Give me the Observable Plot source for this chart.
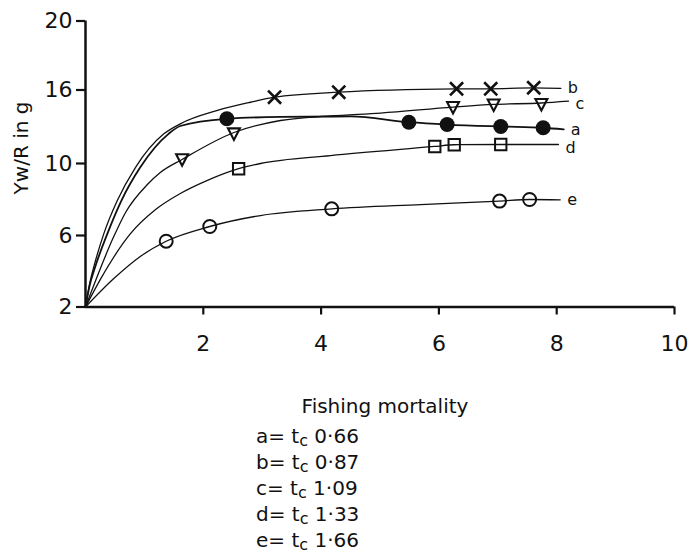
<!DOCTYPE html>
<html>
<head>
<meta charset="utf-8">
<script src="https://cdn.jsdelivr.net/npm/d3@7"></script>
<script src="https://cdn.jsdelivr.net/npm/@observablehq/plot@0.6"></script>
<style>
  html, body { margin: 0; padding: 0; background: #fff; }
  #wrap { position: relative; width: 689px; height: 553px; overflow: hidden; font-family: "DejaVu Sans", sans-serif; color: #111; }
  #legend { position: absolute; left: 256px; top: 423px; font-size: 20px; }
  #legend div { height: 26px; line-height: 26px; white-space: pre; }
  #legend sub { font-size: 16px; vertical-align: -3px; line-height: 0; }
</style>
</head>
<body>
<div id="wrap"><div id="legend"></div></div>
<script>
// ---- tick labels & legend ----
const xTicks = [2, 4, 6, 8, 10];
const yTicks = [2, 6, 10, 16, 20];
const seriesNames = ["a", "b", "c", "d", "e"];
const tcValues = ["0·66", "0·87", "1·09", "1·33", "1·66"];

// ---- observed points (fishing mortality F, Yw/R in g) ----
const aPointF = [2.40, 5.49, 6.14, 7.05, 7.77];
const aPointY = [13.65, 13.37, 13.18, 13.02, 12.92];
const bPointF = [3.21, 4.30, 6.30, 6.88, 7.61];
const bPointY = [15.41, 15.82, 16.07, 16.07, 16.13];
const cPointF = [1.64, 2.52, 6.24, 6.93, 7.74];
const cPointY = [10.33, 12.45, 14.60, 14.80, 14.85];
const dPointF = [2.60, 5.93, 6.26, 7.05];
const dPointY = [9.71, 11.39, 11.53, 11.55];
const ePointF = [1.37, 2.11, 4.18, 7.03, 7.54];
const ePointY = [5.68, 6.50, 7.48, 7.91, 8.00];

// ---- fitted curves ----
const aCurveF = [0, 0.07, 0.15, 0.37, 0.61, 0.93, 1.41, 1.61, 2.40, 3.31, 4.50, 5.49, 6.14, 7.05, 7.77, 8.12];
const aCurveY = [2, 3.20, 4.10, 6.09, 7.94, 9.79, 12.42, 13.06, 13.65, 13.80, 13.84, 13.37, 13.18, 13.02, 12.92, 12.78];
const bCurveF = [0, 0.07, 0.14, 0.31, 0.54, 0.85, 1.33, 1.61, 2.24, 2.80, 3.21, 4.30, 6.30, 6.88, 7.61, 8.07];
const bCurveY = [2, 3.30, 4.23, 6.09, 7.94, 9.79, 12.42, 13.24, 14.33, 15.00, 15.41, 15.82, 16.06, 16.07, 16.12, 16.09];
const cCurveF = [0, 0.48, 0.68, 1.05, 1.27, 1.64, 2.52, 3.31, 4.16, 5.01, 6.24, 6.93, 7.74, 8.20];
const cCurveY = [2, 5.94, 7.28, 8.83, 9.50, 10.33, 12.53, 13.51, 13.88, 14.12, 14.60, 14.82, 14.94, 15.09];
const dCurveF = [0, 0.26, 0.76, 1.19, 1.61, 2.07, 2.60, 2.97, 4.16, 5.93, 6.26, 7.05, 8.03];
const dCurveY = [2, 3.59, 6.09, 7.44, 8.33, 9.06, 9.71, 10.00, 10.65, 11.39, 11.53, 11.55, 11.55];
const eCurveF = [0, 0.48, 0.93, 1.37, 2.11, 2.97, 4.18, 5.69, 7.03, 7.54, 8.06];
const eCurveY = [2, 3.59, 4.83, 5.68, 6.50, 7.11, 7.48, 7.72, 7.91, 8.00, 7.98];

// ---- build tables ----
const curveSets = {a: [aCurveF, aCurveY], b: [bCurveF, bCurveY], c: [cCurveF, cCurveY], d: [dCurveF, dCurveY], e: [eCurveF, eCurveY]};
const pointSets = {a: [aPointF, aPointY], b: [bPointF, bPointY], c: [cPointF, cPointY], d: [dPointF, dPointY], e: [ePointF, ePointY]};
const curveRows = seriesNames.flatMap(s => curveSets[s][0].map((f, i) => ({series: s, f, y: curveSets[s][1][i]})));
const pts = s => pointSets[s][0].map((f, i) => ({series: s, f, y: pointSets[s][1][i]}));

const invTriangle = {
  draw(ctx, size) {
    const s = Math.sqrt(size);
    ctx.moveTo(-0.58 * s, -0.5 * s);
    ctx.lineTo(0.58 * s, -0.5 * s);
    ctx.lineTo(0, 0.62 * s);
    ctx.closePath();
  }
};

const W = 689, H = 420;
const yTop = 20.5, yBottom = 306.5;
const font = "DejaVu Sans";
const endLabel = (names, dy) => Plot.text(curveRows.filter(d => names.includes(d.series)),
  Plot.selectLast({x: "f", y: "y", z: "series", text: "series", dx: 7, dy, textAnchor: "start", fontSize: 16, fill: "#111"}));

const chart = Plot.plot({
  width: W,
  height: H,
  marginLeft: 85,
  marginRight: 15,
  marginTop: yTop,
  marginBottom: H - yBottom,
  style: {fontFamily: font, background: "white", color: "#111"},
  x: {domain: [0, 10]},
  y: {type: "linear", domain: yTicks, range: [306.5, 235, 163, 89.5, 20.5]},
  marks: [
    Plot.axisX({ticks: xTicks, tickSize: 8, tickPadding: 20, fontSize: 22, label: null, strokeWidth: 2.2}),
    Plot.axisY({ticks: yTicks, tickSize: 9, tickPadding: 4, fontSize: 22, label: null, strokeWidth: 2.2}),
    Plot.line(curveRows.filter(d => d.series !== "a"), {x: "f", y: "y", z: "series", curve: "monotone-x", stroke: "#111", strokeWidth: 1.3}),
    Plot.line(curveRows.filter(d => d.series === "a"), {x: "f", y: "y", curve: "monotone-x", stroke: "#111", strokeWidth: 1.8}),
    Plot.dot(pts("a"), {x: "f", y: "y", symbol: "circle", r: 7.5, fill: "#111", stroke: "none"}),
    Plot.dot(pts("b"), {x: "f", y: "y", symbol: "times", r: 6, stroke: "#111", strokeWidth: 2.6}),
    Plot.dot(pts("c"), {x: "f", y: "y", symbol: invTriangle, r: 5.8, fill: "none", stroke: "#111", strokeWidth: 2.1}),
    Plot.dot(pts("d"), {x: "f", y: "y", symbol: "square", r: 6.4, fill: "none", stroke: "#111", strokeWidth: 2}),
    Plot.dot(pts("e"), {x: "f", y: "y", symbol: "circle", r: 6.5, fill: "none", stroke: "#111", strokeWidth: 2}),
    endLabel(["a", "e"], 0),
    endLabel(["b"], -1),
    endLabel(["c", "d"], 3),
    Plot.ruleX([0], {stroke: "#111", strokeWidth: 2.5}),
    Plot.ruleY([yTicks[0]], {stroke: "#111", strokeWidth: 2.5}),
    Plot.text(["Yw/R in g"], {text: d => d, frameAnchor: "left", textAnchor: "middle", lineAnchor: "middle", rotate: -90, dx: -64, dy: -16, fontSize: 20, fill: "#111"}),
    Plot.text(["Fishing mortality"], {text: d => d, frameAnchor: "bottom", textAnchor: "middle", lineAnchor: "middle", dx: 5, dy: 99.5, fontSize: 20, fill: "#111"})
  ]
});

const wrap = document.getElementById("wrap");
wrap.insertBefore(chart, wrap.firstChild);

const legend = document.getElementById("legend");
legend.innerHTML = seriesNames.map((s, i) => `<div>${s}= t<sub>c</sub> ${tcValues[i]}</div>`).join("");
</script>
</body>
</html>
